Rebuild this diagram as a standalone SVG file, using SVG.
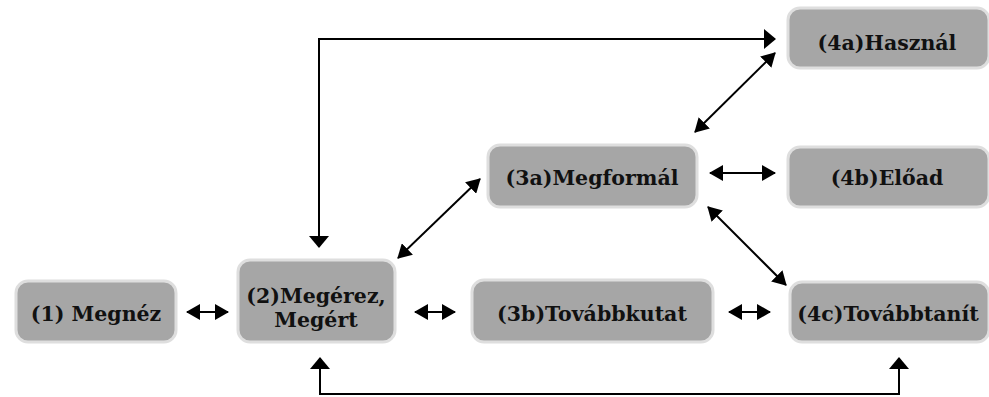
<svg xmlns="http://www.w3.org/2000/svg" width="989" height="397" viewBox="0 0 989 397">
<style>
.box{fill:#a6a6a6;stroke:#dedede;stroke-width:3}
.ln{fill:none;stroke:#000;stroke-width:2}
.lbl{font-family:'DejaVu Serif',serif;font-weight:bold;font-size:20.5px;fill:#111;text-anchor:middle}
</style>
<defs>
<marker id="ah" markerUnits="userSpaceOnUse" markerWidth="14" markerHeight="16" refX="13" refY="8" orient="auto-start-reverse">
<path d="M0,0 L14,8 L0,16 z" fill="#000"/>
</marker>
<marker id="ahb" markerUnits="userSpaceOnUse" markerWidth="12" markerHeight="20" refX="11" refY="10" orient="auto-start-reverse">
<path d="M0,0 L12,10 L0,20 z" fill="#000"/>
</marker>
</defs>
<g id="n1"><rect class="box" x="16" y="281" width="160" height="61" rx="12"/><text class="lbl" x="96" y="321">(1) Megnéz</text></g>
<g id="n2"><rect class="box" x="238" y="260" width="157" height="82" rx="12"/><text class="lbl" x="316" y="303">(2)Megérez,</text><text class="lbl" x="316" y="327">Megért</text></g>
<g id="n3a"><rect class="box" x="488" y="145" width="209" height="62" rx="12"/><text class="lbl" x="592" y="185">(3a)Megformál</text></g>
<g id="n3b"><rect class="box" x="472" y="280" width="241" height="62" rx="12"/><text class="lbl" x="592" y="321">(3b)Továbbkutat</text></g>
<g id="n4a"><rect class="box" x="788" y="8" width="201" height="60" rx="12"/><text class="lbl" x="887" y="50">(4a)Használ</text></g>
<g id="n4b"><rect class="box" x="788" y="147" width="201" height="60" rx="12"/><text class="lbl" x="887" y="185">(4b)Előad</text></g>
<g id="n4c"><rect class="box" x="790" y="282" width="199" height="60" rx="12"/><text class="lbl" x="888" y="321">(4c)Továbbtanít</text></g>
<g id="connectors">
<line class="ln" x1="187" y1="312" x2="228" y2="312" marker-start="url(#ah)" marker-end="url(#ah)"/>
<line class="ln" x1="415" y1="312" x2="455" y2="312" marker-start="url(#ah)" marker-end="url(#ah)"/>
<line class="ln" x1="729" y1="312" x2="770" y2="312" marker-start="url(#ah)" marker-end="url(#ah)"/>
<line class="ln" x1="710" y1="173" x2="775" y2="173" marker-start="url(#ah)" marker-end="url(#ah)"/>
<line class="ln" x1="398" y1="258" x2="480" y2="179" marker-start="url(#ah)" marker-end="url(#ah)"/>
<line class="ln" x1="708" y1="207" x2="786" y2="285" marker-start="url(#ah)" marker-end="url(#ah)"/>
<line class="ln" x1="695" y1="132" x2="775" y2="53" marker-start="url(#ah)" marker-end="url(#ah)"/>
<polyline class="ln" points="319,247 319,39 775,39" marker-start="url(#ahb)" marker-end="url(#ahb)"/>
<polyline class="ln" points="320,358 320,394 899,394 899,358" marker-start="url(#ahb)" marker-end="url(#ahb)"/>
</g>
</svg>
